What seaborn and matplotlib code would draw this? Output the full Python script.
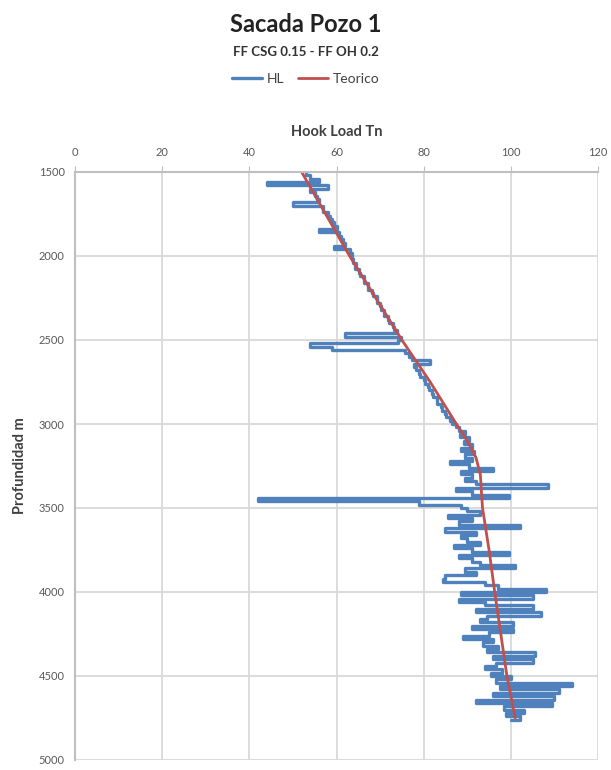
import seaborn as sns
import matplotlib.pyplot as plt
import pandas as pd

# Hook load (every 20 m, spikes included)
depth_hl = list(range(1500, 4780, 20))
hook_load = [
    53, 54, 56, 44, 58, 54, 55, 55.5, 56, 50,
    57, 57, 58, 58.5, 59, 59.5, 60, 56, 60.5, 61,
    61.5, 62, 59.5, 63, 63.5,
    63.5, 63.8, 64.5, 64.3, 65.2, 65.4, 66.3, 66.4, 67.2, 67.3,
    68.2, 68.3, 69.2, 69.2, 70, 70.2, 71, 71, 71.9, 72.1,
    72.9, 73.1, 73.8, 62, 74.8, 74.2, 54, 59, 75.8, 76.6,
    77.3, 81.5, 77.8, 78.3, 79, 79.2, 80, 80.2, 81, 81.2,
    82, 82.1, 83, 83.1, 84, 84.2, 84.9, 85.2, 86, 86.4,
    87.5, 88, 89.5, 88.3, 90.5, 89.2, 91, 88.5, 91.5, 89.5,
    91, 86, 90.5, 96, 88.5, 91, 89.5, 92, 108.5, 87.5,
    91, 99.5, 42, 79, 88.5, 90, 93, 85.5, 91, 88,
    102, 85, 92, 88.5, 90, 93, 87, 91, 99.5, 88,
    91, 93, 101, 89.5, 92, 85, 84.5, 94, 97, 108,
    88.5, 105, 88, 94, 105, 92, 107, 94.5, 93, 100.5,
    91, 100.5, 95, 89, 96, 93.5, 97, 94.5, 105.5, 96,
    105, 96.5, 94, 98, 95.5, 100, 96.5, 114, 97.5, 111,
    96, 110, 92, 109.5, 98.5, 103, 99, 102, 100,
]

# Theoretical curve
depth_teo = [1500, 1750, 2000, 2250, 2500, 2750, 3000, 3100, 3200, 3300,
             3500, 3750, 4000, 4250, 4500, 4750]
teorico = [52, 57.5, 63, 69, 75, 81.5, 87.5, 90, 92, 93,
           93.5, 95, 96.3, 97.7, 99.1, 101]

df_hl = pd.DataFrame({'depth': depth_hl, 'hl': hook_load})
df_teo = pd.DataFrame({'depth': depth_teo, 'hl': teorico})

sns.set_style('white')
plt.rcParams['font.family'] = ['Lato', 'DejaVu Sans']

fig = plt.figure(figsize=(6.11, 7.7), dpi=100)
ax = fig.add_axes([75 / 611, 10 / 770, 523 / 611, 588 / 770])

# step drawing gives the flat horizontal spikes of the logged trace
sns.lineplot(data=df_hl, x='hl', y='depth', orient='y', estimator=None,
             color='#4F81BD', linewidth=2.4, ax=ax, label='HL',
             drawstyle='steps-pre')
sns.lineplot(data=df_teo, x='hl', y='depth', orient='y', estimator=None,
             color='#C0504D', linewidth=2, ax=ax, label='Teorico')

ax.set_xlim(0, 120)
ax.set_ylim(5000, 1500)
ax.set_xticks(range(0, 121, 20))
ax.set_yticks(range(1500, 5001, 500))
ax.xaxis.tick_top()
ax.xaxis.set_label_position('top')
ax.grid(True, color='#d9d9d9', linewidth=1.3)
ax.set_axisbelow(True)
for s in ['right', 'bottom']:
    ax.spines[s].set_visible(False)
for s in ['left', 'top']:
    ax.spines[s].set_color('#bfbfbf')
    ax.spines[s].set_linewidth(1.5)
ax.tick_params(axis='both', length=4, color='#bfbfbf', labelsize=8,
               labelcolor='#595959', direction='out')
ax.tick_params(axis='x', pad=6)

ax.set_xlabel('Hook Load Tn', fontsize=10.5, fontweight='bold', color='#404040', labelpad=8)
ax.set_ylabel('Profundidad m', fontsize=10.5, fontweight='bold', color='#404040', labelpad=8)

ax.legend_.remove()
handles, labels = ax.get_legend_handles_labels()
fig.legend(handles, labels, loc='center', bbox_to_anchor=(0.5, 1 - 79 / 770), ncol=2,
           frameon=False, fontsize=10, handlelength=2.2, columnspacing=1.0,
           handletextpad=0.3, labelcolor='#404040')

fig.text(0.5, 1 - 24 / 770, 'Sacada Pozo 1', ha='center', va='center',
         fontsize=17, fontweight='bold', color='#222222')
fig.text(0.5, 1 - 52 / 770, 'FF CSG 0.15 - FF OH 0.2', ha='center', va='center',
         fontsize=9.5, fontweight='bold', color='#333333')

fig.savefig('out.png', dpi=100)
